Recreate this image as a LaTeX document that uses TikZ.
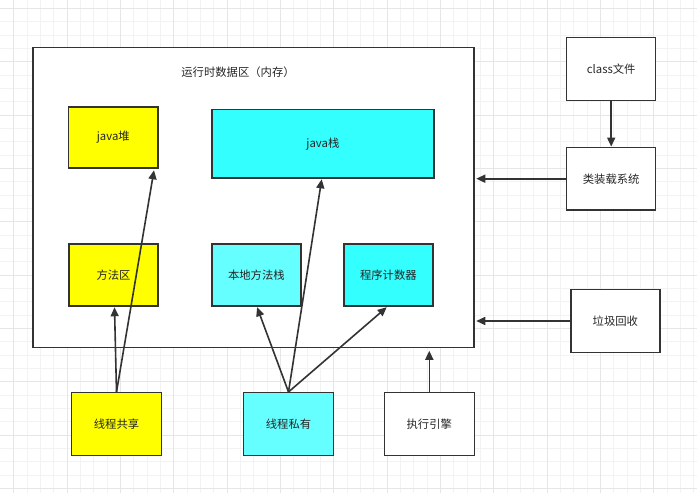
\documentclass[tikz,border=0pt]{standalone}
\usepackage{fontspec}
\setmainfont{Noto Sans CJK SC}
\usetikzlibrary{arrows.meta,calc}
\def\px{0.75pt}
\definecolor{bordc}{HTML}{333333}
\definecolor{yel}{HTML}{FFFF00}
\definecolor{cyanA}{HTML}{33FFFF}
\definecolor{cyanB}{HTML}{66FFFF}
\definecolor{gridminor}{HTML}{F3F3F3}
\definecolor{gridmajor}{HTML}{E6E6E6}
\tikzset{
  box/.style={draw=bordc, line width=1.5*\px, inner sep=0pt, font=\fontsize{8.5pt}{10pt}\selectfont, text=black!85},
  conn/.style={draw=bordc, line width=1.6*\px, -{Triangle[length=9*\px, width=8*\px]}},
}
\begin{document}
\begin{tikzpicture}[x=0.75pt, y=-0.75pt]
\useasboundingbox (0,0) rectangle (697,493);
\fill[white] (0,0) rectangle (697,493);
% grid
\foreach \i in {-40,...,60} {
  \pgfmathsetmacro\gx{547+13.333*\i}
  \ifdim \gx pt>-1pt \ifdim \gx pt<698pt
    \draw[gridminor, line width=0.75*\px] (\gx,0) -- (\gx,493);
  \fi\fi
  \pgfmathsetmacro\gy{435+13.333*\i}
  \ifdim \gy pt>-1pt \ifdim \gy pt<494pt
    \draw[gridminor, line width=0.75*\px] (0,\gy) -- (697,\gy);
  \fi\fi
}
\foreach \i in {-12,...,3} {
  \pgfmathsetmacro\gx{547+53.333*\i}
  \ifdim \gx pt>-1pt \ifdim \gx pt<698pt
    \draw[gridmajor, line width=0.9*\px] (\gx,0) -- (\gx,493);
  \fi\fi
  \pgfmathsetmacro\gy{435+53.333*\i}
  \ifdim \gy pt>-1pt \ifdim \gy pt<494pt
    \draw[gridmajor, line width=0.9*\px] (0,\gy) -- (697,\gy);
  \fi\fi
}
% outer runtime data area
\node[box, fill=white, minimum width=441*\px, minimum height=300*\px] (rt) at (253.5,197.5) {};
\node[font=\fontsize{8.5pt}{10pt}\selectfont, text=black!85] (title) at (238,71.7) {运行时数据区（内存）};
% inner boxes
\node[box, fill=yel, minimum width=89.5*\px, minimum height=61*\px] (heap) at (113.3,137.5) {java堆};
\node[box, fill=cyanA, minimum width=222.3*\px, minimum height=68.7*\px] (jstack) at (322.9,143.7) {java栈};
\node[box, fill=yel, minimum width=89*\px, minimum height=62*\px] (method) at (113.5,275) {方法区};
\node[box, fill=cyanB, minimum width=89.3*\px, minimum height=62*\px] (native) at (256.4,275) {本地方法栈};
\node[box, fill=cyanA, minimum width=89.3*\px, minimum height=62*\px] (pc) at (388.4,275) {程序计数器};
% right side
\node[box, fill=white, minimum width=89*\px, minimum height=63.4*\px] (classf) at (611.2,69) {class文件};
\node[box, fill=white, minimum width=89*\px, minimum height=62.7*\px] (loader) at (611.2,178.7) {类装载系统};
\node[box, fill=white, minimum width=89.3*\px, minimum height=63.4*\px] (gc) at (615.4,321) {垃圾回收};
% bottom
\node[box, fill=yel, minimum width=89.6*\px, minimum height=63*\px] (shared) at (116.5,424.2) {线程共享};
\node[box, fill=cyanB, minimum width=89.6*\px, minimum height=63*\px] (private) at (288.5,424.2) {线程私有};
\node[box, fill=white, minimum width=90*\px, minimum height=63.4*\px] (engine) at (429.3,424) {执行引擎};
% connectors
\draw[conn] (classf.south) -- (loader.north);
\draw[conn] (loader.west) -- ($(loader.west -| rt.east)+(1.5,0)$);
\draw[conn] (gc.west) -- ($(gc.west -| rt.east)+(1.5,0)$);
\draw[conn] (engine.north) -- ($(engine.north |- rt.south)+(0,2.5)$);
\draw[conn] (shared.north) -- ($(method.south)+(1,0.5)$);
\draw[conn] (shared.north) -- ($(heap.south east)+(-4.8,1.5)$);
\draw[conn] (private.north) -- ($(native.south)+(0.7,0.5)$);
\draw[conn] (private.north) -- ($(pc.south)+(-1.7,0.5)$);
\draw[conn] (private.north) -- ($(jstack.south)+(-1.2,0.5)$);
\end{tikzpicture}
\end{document}
